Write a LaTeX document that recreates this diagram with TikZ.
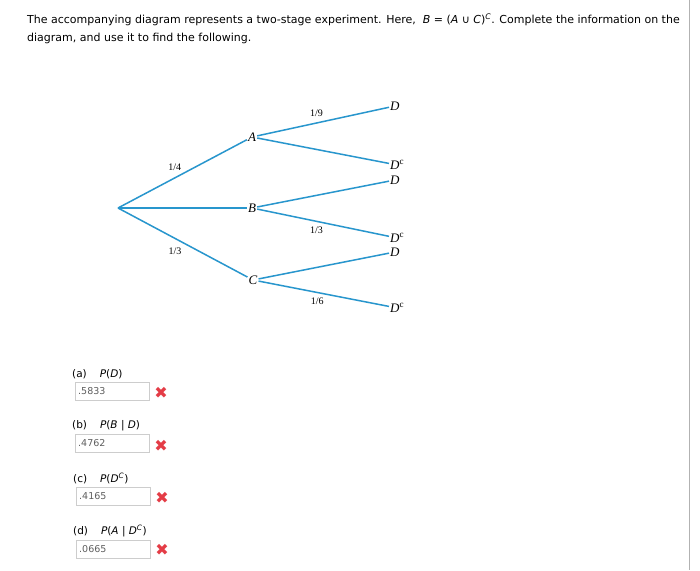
\documentclass[tikz,border=0pt]{standalone}
\usepackage{fontspec}
\setmainfont{DejaVu Sans}
\newfontfamily\treefont{Liberation Serif}
\definecolor{branch}{RGB}{40,150,205}
\definecolor{wrong}{RGB}{228,60,70}
\definecolor{boxline}{RGB}{205,205,205}
\definecolor{answer}{RGB}{95,95,95}
\tikzset{
  ev/.style={inner sep=1pt, font=\treefont\itshape\fontsize{13}{13}\selectfont},
  prob/.style={inner sep=1pt, font=\treefont\fontsize{10}{10}\selectfont},
  branchline/.style={draw=branch, line width=1.5pt},
  qlabel/.style={anchor=west, inner sep=0pt, font=\fontsize{10.5}{10.5}\selectfont},
  ansbox/.style={draw=boxline, anchor=north west, minimum height=18pt,
    text width=68pt, inner sep=3pt, align=left, text=answer,
    font=\fontsize{9.5}{9.5}\selectfont},
  cross/.style={text=wrong, font=\fontsize{16}{16}\selectfont}
}
\begin{document}
\begin{tikzpicture}[x=1pt,y=-1pt]
  % 全体の背景
  \fill[white] (0,0) rectangle (700,570);
  \useasboundingbox (0,0) rectangle (700,570);
  % 右側の区切り線
  \draw[gray!60] (689,0) -- (689,570);
  % 問題文
  \node[anchor=west, inner sep=0pt, font=\fontsize{11}{11}\selectfont] (line1) at (27,20)
    {The accompanying diagram represents a two-stage experiment. Here,\ \ \textit{B} = (\textit{A} ∪ \textit{C})\textsuperscript{\textit{C}}. Complete the information on the};
  \node[anchor=west, inner sep=0pt, font=\fontsize{11}{11}\selectfont] (line2) at (27,38)
    {diagram, and use it to find the following.};
  % 樹形図の節点
  \coordinate (root) at (118,208);
  \node[ev] (A) at (252,137) {A};
  \node[ev] (B) at (252,208) {B};
  \node[ev] (C) at (253,280) {C};
  \node[ev, anchor=west] (AD) at (389,106) {D};
  \node[ev, anchor=west] (ADc) at (389,165) {D\textsuperscript{\upshape c}};
  \node[ev, anchor=west] (BD) at (389,180) {D};
  \node[ev, anchor=west] (BDc) at (389,238) {D\textsuperscript{\upshape c}};
  \node[ev, anchor=west] (CD) at (389,252) {D};
  \node[ev, anchor=west] (CDc) at (389,308) {D\textsuperscript{\upshape c}};
  % 1段目の枝
  \draw[branchline] (root) -- (A) node[prob, pos=0.44, above=6pt] {1/4};
  \draw[branchline] (root) -- (B);
  \draw[branchline] (root) -- (C) node[prob, pos=0.44, below=8pt] {1/3};
  % 2段目の枝
  \draw[branchline] (A) -- (AD) node[prob, pos=0.45, above=5pt] {1/9};
  \draw[branchline] (A) -- (ADc);
  \draw[branchline] (B) -- (BD);
  \draw[branchline] (B) -- (BDc) node[prob, pos=0.45, below=4pt] {1/3};
  \draw[branchline] (C) -- (CD);
  \draw[branchline] (C) -- (CDc) node[prob, pos=0.45, below=4pt] {1/6};
  % 解答欄 (a)
  \node[qlabel] (qa) at (72,374) {(a)\hspace{13pt}\textit{P}(\textit{D})};
  \node[ansbox] (ba) at (75,382) {.5833};
  \node[cross] (xa) at (161,393) {✖};
  % 解答欄 (b)
  \node[qlabel] (qb) at (72,426) {(b)\hspace{13pt}\textit{P}(\textit{B} | \textit{D})};
  \node[ansbox] (bb) at (75,434) {.4762};
  \node[cross] (xb) at (161,446) {✖};
  % 解答欄 (c)
  \node[qlabel] (qc) at (73,478) {(c)\hspace{13pt}\textit{P}(\textit{D}\textsuperscript{\textit{C}})};
  \node[ansbox] (bc) at (76,487) {.4165};
  \node[cross] (xc) at (162,498) {✖};
  % 解答欄 (d)
  \node[qlabel] (qd) at (73,531) {(d)\hspace{13pt}\textit{P}(\textit{A} | \textit{D}\textsuperscript{\textit{C}})};
  \node[ansbox] (bd) at (76,540) {.0665};
  \node[cross] (xd) at (162,550) {✖};
\end{tikzpicture}
\end{document}
